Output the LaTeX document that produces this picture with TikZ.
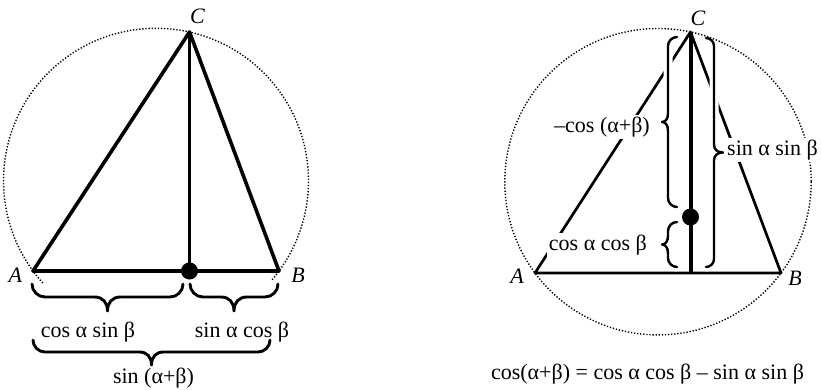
\documentclass[tikz,border=0pt]{standalone}
\usepackage{fontspec}
\setmainfont{Liberation Serif}
\newcommand\mybrace[7][]{% [style] x, y, rotation, length, curl, tip
  \begin{scope}[shift={(#2,#3)}, rotate=#4]
    \draw[bracestyle,#1] (0,0) .. controls (0,0.55*#6) and (0.45*#6,#6) .. (#6,#6)
      -- ({#5/2-#6},#6) .. controls ({#5/2-0.35*#6},#6) and ({#5/2},{#6+0.4*#7}) .. ({#5/2},{#6+#7})
      .. controls ({#5/2},{#6+0.4*#7}) and ({#5/2+0.35*#6},#6) .. ({#5/2+#6},#6)
      -- ({#5-#6},#6) .. controls ({#5-0.45*#6},#6) and (#5,0.55*#6) .. (#5,0);
  \end{scope}}
\begin{document}
\begin{tikzpicture}[x=1pt,y=-1pt,
  lbl/.style={font=\fontsize{22}{26}\selectfont, inner sep=0pt},
  boxlbl/.style={lbl, fill=white, inner sep=2pt},
  dotcirc/.style={line width=1.4pt, dash pattern=on 1.3pt off 1.8pt},
  triL/.style={line width=3.6pt, line join=round},
  altL/.style={line width=2.4pt},
  triR/.style={line width=2.7pt, line join=round},
  vertR/.style={line width=4pt},
  bracestyle/.style={line width=2.9pt, line cap=round, line join=round},
  halo/.style={white, line width=9pt}]
\useasboundingbox (0,0) rectangle (821,389);

% ---------- left figure ----------
\coordinate (A1) at (33,271);
\coordinate (B1) at (279,271);
\coordinate (C1) at (189.5,32);
\coordinate (D1) at (189.5,271);
\coordinate (O1) at (156,180.8);
\draw[dotcirc] (O1) ++(137.9:152.5) arc[start angle=137.9, end angle=401.1, radius=152.5];
\draw[triL] (A1) -- (C1) -- (B1) -- cycle;
\draw[altL] (C1) -- (D1);
\fill (D1) circle[radius=8.5];

\mybrace{32}{284}{0}{151}{13}{14}
\mybrace{190}{284}{0}{88}{13}{14}
\mybrace{33}{340}{0}{237}{12}{13}

\node[lbl, anchor=base] (lA1) at (15.5,282) {\textit{A}};
\node[lbl, anchor=base] (lB1) at (298,282) {\textit{B}};
\node[lbl, anchor=base] (lC1) at (197.5,23) {\textit{C}};
\node[lbl, anchor=base] (t1) at (88,337) {cos α sin β};
\node[lbl, anchor=base] (t2) at (242,337) {sin α cos β};
\node[lbl, anchor=base] (t3) at (153.5,383) {sin (α+β)};

% ---------- right figure ----------
\coordinate (A2) at (535,273);
\coordinate (B2) at (781,273);
\coordinate (C2) at (690.5,32);
\coordinate (D2) at (690.5,273);
\coordinate (E2) at (690.5,217);
\coordinate (O2) at (658,181.7);
\draw[triR] (A2) -- (C2) -- (B2) -- cycle;
\draw[vertR] (C2) -- (D2);
\fill (E2) circle[radius=8.5];

\mybrace[halo]{677}{37}{-90}{170}{9}{6}
\mybrace[halo]{677}{222}{-90}{45}{9}{6}
\mybrace[halo]{706}{267}{90}{229}{8}{9}

\draw[dotcirc] (O2) circle[radius=153.2];

\mybrace[line width=2.4pt]{677}{37}{-90}{170}{9}{6}
\mybrace[line width=2.4pt]{677}{222}{-90}{45}{9}{6}
\mybrace[line width=2.4pt]{706}{267}{90}{229}{8}{9}

\node[lbl, anchor=base] (lA2) at (517,283) {\textit{A}};
\node[lbl, anchor=base] (lB2) at (795,285) {\textit{B}};
\node[lbl, anchor=base] (lC2) at (698,25) {\textit{C}};
\node[boxlbl, anchor=east] (t4) at (652,127) {–cos (α+β)};
\node[boxlbl, anchor=east] (t5) at (649,245) {cos α cos β};
\node[boxlbl, anchor=west] (t6) at (725,150) {sin α sin β};
\node[lbl, anchor=base] (eq) at (647.5,379) {cos(α+β) = cos α cos β – sin α sin β};
\end{tikzpicture}
\end{document}
